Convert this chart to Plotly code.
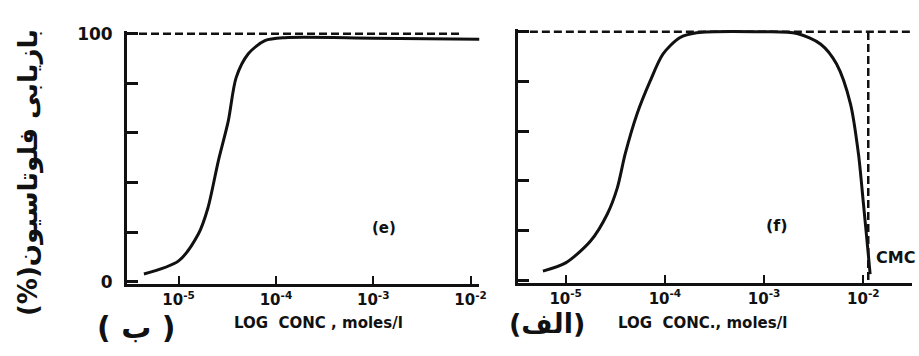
import plotly.graph_objects as go

# ---- data ----
left_conc = [4.4e-6, 1.0e-5, 1.6e-5, 2.0e-5, 2.56e-5, 3.24e-5, 3.9e-5, 5.2e-5, 7.7e-5, 1.24e-4, 1.0e-3, 1.24e-2]
left_recovery = [3.2, 8.5, 19.4, 29.8, 48.8, 64.9, 82.3, 91.9, 97.2, 98.4, 98.2, 97.8]

right_conc = [5.9e-6, 1.0e-5, 1.78e-5, 2.63e-5, 3.31e-5, 3.98e-5, 5.25e-5, 7.08e-5, 9.55e-5,
              1.41e-4, 2.09e-4, 1.0e-3, 2.14e-3, 3.72e-3, 5.37e-3, 7.41e-3, 8.91e-3, 1.0e-2, 1.12e-2, 1.17e-2]
right_recovery = [3.6, 6.9, 15.7, 26.6, 37.0, 50.8, 67.0, 80.0, 91.0,
                  97.6, 99.6, 100.0, 99.3, 95.0, 87.0, 71.0, 51.0, 31.0, 10.5, 2.4]

left_ref_x = [2.95e-6, 7.8e-3]     # dashed 100 % line, left panel
right_ref_x = [3.3e-6, 3.2e-2]     # dashed 100 % line, right panel
cmc_conc = 1.12e-2                 # critical micelle concentration

x_tickvals = [1e-5, 1e-4, 1e-3, 1e-2]
x_ticktext = ["10<sup>-5</sup>", "10<sup>-4</sup>", "10<sup>-3</sup>", "10<sup>-2</sup>"]
y_tickvals = [0, 20, 40, 60, 80, 100]
y_ticktext_left = ["0", "", "", "", "", "100"]

FONT = "DejaVu Sans"
BLACK = "#111111"

fig = go.Figure()

# left panel (e)
fig.add_trace(go.Scatter(x=left_ref_x, y=[100, 100], mode="lines",
                         line=dict(color=BLACK, width=2.5, dash="8px,4px"),
                         xaxis="x", yaxis="y", showlegend=False))
fig.add_trace(go.Scatter(x=left_conc, y=left_recovery, mode="lines",
                         line=dict(color=BLACK, width=3, shape="spline", smoothing=0.8),
                         xaxis="x", yaxis="y", showlegend=False))

# right panel (f)
fig.add_trace(go.Scatter(x=right_ref_x, y=[100, 100], mode="lines",
                         line=dict(color=BLACK, width=2.5, dash="8px,4px"),
                         xaxis="x2", yaxis="y2", showlegend=False))
fig.add_trace(go.Scatter(x=[cmc_conc, cmc_conc], y=[0, 100], mode="lines",
                         line=dict(color=BLACK, width=2.5, dash="8px,4px"),
                         xaxis="x2", yaxis="y2", showlegend=False))
fig.add_trace(go.Scatter(x=right_conc, y=right_recovery, mode="lines",
                         line=dict(color=BLACK, width=3, shape="spline", smoothing=0.8),
                         xaxis="x2", yaxis="y2", showlegend=False))

tickfont = dict(family=FONT, size=15, color=BLACK, weight="bold")

xaxis_common = dict(type="log", showgrid=False, zeroline=False, showline=True,
                    linecolor=BLACK, linewidth=3, ticks="inside", ticklen=8,
                    tickwidth=2, tickcolor=BLACK, tickvals=x_tickvals,
                    ticktext=x_ticktext, tickfont=tickfont, ticklabelstandoff=0)
yaxis_common = dict(range=[-1, 101], showgrid=False, zeroline=False, showline=True,
                    linecolor=BLACK, linewidth=3, ticks="inside", ticklen=11,
                    tickwidth=2.5, tickcolor=BLACK, tickvals=y_tickvals,
                    tickfont=dict(family=FONT, size=17, color=BLACK, weight="bold"))

fig.update_layout(
    width=919, height=356,
    margin=dict(l=0, r=0, t=0, b=0),
    paper_bgcolor="white", plot_bgcolor="white",
    xaxis=dict(xaxis_common, domain=[0.1393, 0.5256], range=[-5.53, -1.91], anchor="y"),
    yaxis=dict(yaxis_common, domain=[0.1888, 0.9292], ticktext=y_ticktext_left,
               anchor="x", ticklabelstandoff=8),
    xaxis2=dict(xaxis_common, domain=[0.568, 1.0], range=[-5.48, -1.51], anchor="y2"),
    yaxis2=dict(yaxis_common, domain=[0.1944, 0.9348], showticklabels=False, anchor="x2"),
)

annots = [
    dict(text="(e)", x=387, y=230, size=15, anchor="center"),
    dict(text="(f)", x=783, y=227, size=16, anchor="center"),
    dict(text="CMC", x=881, y=261, size=16, anchor="left"),
    dict(text="LOG  CONC , moles/l", x=321, y=329, size=15, anchor="center"),
    dict(text="LOG  CONC., moles/l", x=708, y=329, size=15, anchor="center"),
    dict(text="( ب )", x=137, y=334, size=30, anchor="center"),
    dict(text="(الف)", x=551, y=329, size=27, anchor="center"),
]
for a in annots:
    fig.add_annotation(text=a["text"], x=a["x"] / 919, y=1 - a["y"] / 356,
                       xref="paper", yref="paper", showarrow=False,
                       xanchor=a["anchor"], yanchor="middle",
                       font=dict(family=FONT, size=a["size"], color=BLACK, weight="bold"))

fig.add_annotation(text="(%)بازیابی فلوتاسیون", x=28 / 919, y=1 - 172 / 356,
                   xref="paper", yref="paper", showarrow=False, textangle=-90,
                   xanchor="center", yanchor="middle",
                   font=dict(family=FONT, size=26, color=BLACK, weight="bold"))

fig.write_html("out.html", config={"displayModeBar": False},
               post_script="document.body.style.margin='0';document.body.style.overflow='hidden';")
